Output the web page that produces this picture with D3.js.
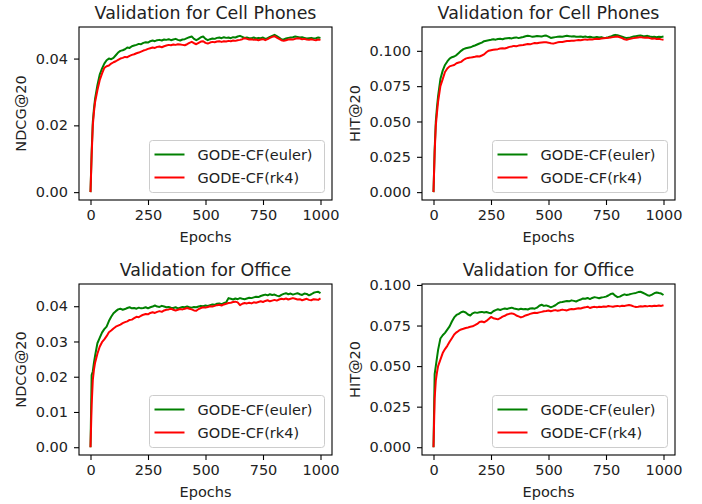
<!DOCTYPE html>
<html>
<head>
<meta charset="utf-8">
<script src="https://d3js.org/d3.v7.min.js"></script>
<style>
body { margin: 0; background: #fff; }
text { font-family: "DejaVu Sans", sans-serif; fill: #222; }
</style>
</head>
<body>
<div id="chart"></div>
<script>
// epochs where validation was logged
var epochs = [0, 5, 10, 15, 20,
	30, 40, 50, 60, 70, 80, 90, 100,
	110, 120, 130, 140, 150, 160, 170, 180, 190, 200,
	210, 220, 230, 240, 250, 260, 270, 280, 290, 300,
	310, 320, 330, 340, 350, 360, 370, 380, 390, 400,
	410, 420, 430, 440, 450, 460, 470, 480, 490, 500,
	510, 520, 530, 540, 550, 560, 570, 580, 590, 600,
	610, 620, 630, 640, 650, 660, 670, 680, 690, 700,
	710, 720, 730, 740, 750, 760, 770, 780, 790, 800,
	810, 820, 830, 840, 850, 860, 870, 880, 890, 900,
	910, 920, 930, 940, 950, 960, 970, 980, 990, 1000];

var seriesNames = ["GODE-CF(euler)", "GODE-CF(rk4)"];

var cellNdcgEuler = [0, 0.0120, 0.0210, 0.0250, 0.0280,
	0.0320, 0.0352, 0.0370, 0.0385, 0.0395, 0.0400, 0.0398, 0.0402,
	0.0410, 0.0418, 0.0423, 0.0425, 0.0428, 0.0433, 0.0432, 0.0437, 0.0439, 0.0441,
	0.0444, 0.0443, 0.0447, 0.0449, 0.0448, 0.0452, 0.0454, 0.0452, 0.0455, 0.0456,
	0.0454, 0.0457, 0.0456, 0.0458, 0.0455, 0.0457, 0.0459, 0.0456, 0.0454, 0.0457,
	0.0458, 0.0461, 0.0464, 0.0466, 0.0459, 0.0455, 0.0459, 0.0464, 0.0466, 0.0459,
	0.0455, 0.0458, 0.0460, 0.0459, 0.0462, 0.0463, 0.0461, 0.0464, 0.0462, 0.0463,
	0.0461, 0.0464, 0.0463, 0.0466, 0.0468, 0.0465, 0.0462, 0.0463, 0.0461, 0.0461,
	0.0463, 0.0460, 0.0462, 0.0461, 0.0463, 0.0459, 0.0461, 0.0465, 0.0468, 0.0471,
	0.0467, 0.0463, 0.0458, 0.0457, 0.0460, 0.0462, 0.0463, 0.0464, 0.0466, 0.0465,
	0.0463, 0.0464, 0.0462, 0.0460, 0.0461, 0.0462, 0.0460, 0.0461, 0.0463, 0.0462];

var cellNdcgRk4 = [0, 0.0110, 0.0200, 0.0240, 0.0270,
	0.0305, 0.0335, 0.0355, 0.0372, 0.0377, 0.0379, 0.0385, 0.0389,
	0.0392, 0.0396, 0.0400, 0.0402, 0.0405, 0.0404, 0.0408, 0.0411, 0.0413, 0.0416,
	0.0418, 0.0421, 0.0424, 0.0426, 0.0429, 0.0431, 0.0433, 0.0432, 0.0435, 0.0436,
	0.0434, 0.0437, 0.0439, 0.0441, 0.0440, 0.0442, 0.0441, 0.0443, 0.0442, 0.0441,
	0.0440, 0.0443, 0.0447, 0.0450, 0.0446, 0.0443, 0.0447, 0.0451, 0.0452, 0.0447,
	0.0445, 0.0448, 0.0450, 0.0449, 0.0451, 0.0452, 0.0450, 0.0452, 0.0451, 0.0453,
	0.0452, 0.0454, 0.0453, 0.0455, 0.0456, 0.0458, 0.0461, 0.0459, 0.0457, 0.0458,
	0.0456, 0.0457, 0.0455, 0.0457, 0.0458, 0.0455, 0.0458, 0.0462, 0.0465, 0.0467,
	0.0463, 0.0459, 0.0455, 0.0453, 0.0455, 0.0457, 0.0458, 0.0457, 0.0459, 0.0461,
	0.0460, 0.0458, 0.0459, 0.0457, 0.0456, 0.0458, 0.0456, 0.0455, 0.0457, 0.0456];

var cellHitEuler = [0, 0.0300, 0.0500, 0.0600, 0.0680,
	0.0800, 0.0860, 0.0900, 0.0925, 0.0945, 0.0955, 0.0960, 0.0970,
	0.0985, 0.1000, 0.1012, 0.1018, 0.1022, 0.1025, 0.1032, 0.1038, 0.1045, 0.1052,
	0.1058, 0.1068, 0.1072, 0.1075, 0.1078, 0.1082, 0.1079, 0.1084, 0.1086, 0.1082,
	0.1087, 0.1089, 0.1091, 0.1088, 0.1092, 0.1095, 0.1090, 0.1094, 0.1098, 0.1103,
	0.1107, 0.1104, 0.1099, 0.1102, 0.1105, 0.1103, 0.1101, 0.1106, 0.1108, 0.1100,
	0.1091, 0.1094, 0.1097, 0.1099, 0.1101, 0.1100, 0.1103, 0.1106, 0.1104, 0.1101,
	0.1103, 0.1099, 0.1100, 0.1102, 0.1098, 0.1101, 0.1097, 0.1099, 0.1096, 0.1095,
	0.1098, 0.1094, 0.1097, 0.1091, 0.1093, 0.1096, 0.1101, 0.1108, 0.1113, 0.1110,
	0.1106, 0.1100, 0.1094, 0.1090, 0.1092, 0.1097, 0.1101, 0.1104, 0.1106, 0.1108,
	0.1105, 0.1103, 0.1106, 0.1101, 0.1098, 0.1100, 0.1097, 0.1099, 0.1098, 0.1101];

var cellHitRk4 = [0, 0.0280, 0.0470, 0.0560, 0.0640,
	0.0750, 0.0800, 0.0850, 0.0875, 0.0890, 0.0895, 0.0900, 0.0912,
	0.0917, 0.0922, 0.0935, 0.0945, 0.0950, 0.0952, 0.0955, 0.0958, 0.0962, 0.0960,
	0.0967, 0.0975, 0.0990, 0.1001, 0.1004, 0.1007, 0.1010, 0.1012, 0.1016, 0.1019,
	0.1017, 0.1022, 0.1028, 0.1031, 0.1035, 0.1033, 0.1037, 0.1039, 0.1041, 0.1045,
	0.1048, 0.1046, 0.1051, 0.1055, 0.1053, 0.1057, 0.1059, 0.1061, 0.1060, 0.1058,
	0.1054, 0.1051, 0.1055, 0.1060, 0.1063, 0.1062, 0.1066, 0.1069, 0.1070, 0.1072,
	0.1071, 0.1074, 0.1076, 0.1075, 0.1078, 0.1081, 0.1079, 0.1082, 0.1080, 0.1083,
	0.1085, 0.1084, 0.1087, 0.1089, 0.1090, 0.1092, 0.1095, 0.1097, 0.1099, 0.1101,
	0.1096, 0.1090, 0.1082, 0.1078, 0.1083, 0.1087, 0.1090, 0.1093, 0.1095, 0.1097,
	0.1094, 0.1092, 0.1094, 0.1090, 0.1086, 0.1088, 0.1084, 0.1086, 0.1081, 0.1078];

var officeNdcgEuler = [0, 0.0205, 0.0215, 0.0240, 0.0260,
	0.0295, 0.0310, 0.0325, 0.0335, 0.0342, 0.0358, 0.0370, 0.0380,
	0.0386, 0.0391, 0.0393, 0.0390, 0.0392, 0.0395, 0.0397, 0.0394, 0.0395, 0.0393,
	0.0396, 0.0394, 0.0395, 0.0397, 0.0394, 0.0397, 0.0399, 0.0402, 0.0399, 0.0398,
	0.0401, 0.0399, 0.0397, 0.0398, 0.0396, 0.0395, 0.0397, 0.0394, 0.0396, 0.0398,
	0.0397, 0.0399, 0.0397, 0.0396, 0.0398, 0.0397, 0.0399, 0.0401, 0.0400, 0.0402,
	0.0401, 0.0403, 0.0405, 0.0404, 0.0407, 0.0408, 0.0406, 0.0409, 0.0411, 0.0423,
	0.0421, 0.0419, 0.0422, 0.0420, 0.0423, 0.0421, 0.0420, 0.0422, 0.0424, 0.0423,
	0.0425, 0.0427, 0.0426, 0.0429, 0.0431, 0.0433, 0.0431, 0.0434, 0.0432, 0.0433,
	0.0430, 0.0428, 0.0432, 0.0435, 0.0437, 0.0434, 0.0436, 0.0433, 0.0435, 0.0437,
	0.0434, 0.0432, 0.0436, 0.0435, 0.0431, 0.0434, 0.0438, 0.0440, 0.0441, 0.0437];

var officeNdcgRk4 = [0, 0.0120, 0.0190, 0.0220, 0.0240,
	0.0265, 0.0285, 0.0298, 0.0306, 0.0315, 0.0326, 0.0331, 0.0337,
	0.0342, 0.0345, 0.0348, 0.0352, 0.0355, 0.0357, 0.0361, 0.0362, 0.0366, 0.0370,
	0.0369, 0.0373, 0.0376, 0.0378, 0.0377, 0.0381, 0.0383, 0.0381, 0.0384, 0.0386,
	0.0384, 0.0388, 0.0390, 0.0391, 0.0393, 0.0390, 0.0388, 0.0390, 0.0392, 0.0391,
	0.0393, 0.0395, 0.0393, 0.0391, 0.0388, 0.0387, 0.0392, 0.0395, 0.0397, 0.0396,
	0.0398, 0.0400, 0.0399, 0.0401, 0.0403, 0.0404, 0.0402, 0.0405, 0.0407, 0.0409,
	0.0410, 0.0412, 0.0413, 0.0411, 0.0403, 0.0407, 0.0409, 0.0408, 0.0410, 0.0408,
	0.0411, 0.0410, 0.0412, 0.0414, 0.0412, 0.0415, 0.0417, 0.0414, 0.0416, 0.0418,
	0.0416, 0.0419, 0.0421, 0.0420, 0.0422, 0.0419, 0.0421, 0.0423, 0.0421, 0.0419,
	0.0420, 0.0417, 0.0419, 0.0421, 0.0418, 0.0417, 0.0420, 0.0419, 0.0418, 0.0422];

var officeHitEuler = [0, 0.0450, 0.0500, 0.0550, 0.0600,
	0.0670, 0.0690, 0.0705, 0.0725, 0.0745, 0.0775, 0.0800, 0.0815,
	0.0822, 0.0832, 0.0836, 0.0830, 0.0818, 0.0812, 0.0825, 0.0831, 0.0828, 0.0832,
	0.0834, 0.0830, 0.0833, 0.0829, 0.0826, 0.0838, 0.0845, 0.0850, 0.0846, 0.0851,
	0.0855, 0.0852, 0.0857, 0.0860, 0.0855, 0.0852, 0.0849, 0.0853, 0.0850, 0.0852,
	0.0849, 0.0855, 0.0857, 0.0854, 0.0860, 0.0872, 0.0878, 0.0871, 0.0874, 0.0869,
	0.0862, 0.0868, 0.0875, 0.0886, 0.0893, 0.0895, 0.0898, 0.0901, 0.0899, 0.0905,
	0.0902, 0.0898, 0.0905, 0.0910, 0.0917, 0.0915, 0.0920, 0.0913, 0.0920, 0.0925,
	0.0922, 0.0918, 0.0923, 0.0925, 0.0928, 0.0935, 0.0944, 0.0947, 0.0934, 0.0925,
	0.0928, 0.0936, 0.0942, 0.0938, 0.0941, 0.0945, 0.0948, 0.0951, 0.0956, 0.0958,
	0.0952, 0.0945, 0.0937, 0.0934, 0.0940, 0.0949, 0.0954, 0.0950, 0.0947, 0.0938];

var officeHitRk4 = [0, 0.0300, 0.0410, 0.0460, 0.0500,
	0.0540, 0.0580, 0.0605, 0.0625, 0.0650, 0.0672, 0.0695, 0.0708,
	0.0718, 0.0726, 0.0730, 0.0735, 0.0738, 0.0742, 0.0745, 0.0752, 0.0760, 0.0772,
	0.0775, 0.0770, 0.0778, 0.0790, 0.0803, 0.0795, 0.0792, 0.0788, 0.0795, 0.0805,
	0.0810, 0.0818, 0.0822, 0.0825, 0.0821, 0.0812, 0.0806, 0.0800, 0.0805, 0.0812,
	0.0816, 0.0822, 0.0826, 0.0829, 0.0827, 0.0831, 0.0834, 0.0838, 0.0840, 0.0843,
	0.0838, 0.0842, 0.0845, 0.0841, 0.0844, 0.0848, 0.0845, 0.0843, 0.0849, 0.0852,
	0.0850, 0.0853, 0.0856, 0.0855, 0.0859, 0.0862, 0.0866, 0.0858, 0.0863, 0.0865,
	0.0862, 0.0866, 0.0864, 0.0867, 0.0865, 0.0870, 0.0868, 0.0866, 0.0869, 0.0871,
	0.0868, 0.0872, 0.0870, 0.0874, 0.0876, 0.0873, 0.0868, 0.0864, 0.0866, 0.0869,
	0.0867, 0.0870, 0.0868, 0.0871, 0.0869, 0.0872, 0.0870, 0.0873, 0.0871, 0.0875];

// tick labels
var xTicks = [0, 250, 500, 750, 1000];
var ndcgCellTicks = [0, 0.02, 0.04];
var ndcgOfficeTicks = [0, 0.01, 0.02, 0.03, 0.04];
var hitTicks = [0, 0.025, 0.05, 0.075, 0.1];

var width = 702,
	height = 504,
	fs = 14.5;

var colors = ["#008000", "#ff0000"];

var svg = d3.select("#chart").append("svg")
	.attr("width", width)
	.attr("height", height)
	.style("background", "#fff");

// one entry per subplot; box = [left, top, right, bottom] in px
var panels = [
	{title: "Validation for Cell Phones", ylabel: "NDCG@20", series: [cellNdcgEuler, cellNdcgRk4],
		yTicks: ndcgCellTicks, fmt: ".2f", box: [79, 27, 332, 200], ylabX: 21},
	{title: "Validation for Cell Phones", ylabel: "HIT@20", series: [cellHitEuler, cellHitRk4],
		yTicks: hitTicks, fmt: ".3f", box: [422, 27, 675, 200], ylabX: 355},
	{title: "Validation for Office", ylabel: "NDCG@20", series: [officeNdcgEuler, officeNdcgRk4],
		yTicks: ndcgOfficeTicks, fmt: ".2f", box: [79, 284, 332, 455], ylabX: 21},
	{title: "Validation for Office", ylabel: "HIT@20", series: [officeHitEuler, officeHitRk4],
		yTicks: hitTicks, fmt: ".3f", box: [422, 284, 675, 455], ylabX: 355}
];

panels.forEach(function(p){
	var l = p.box[0], t = p.box[1], r = p.box[2], b = p.box[3];

	// matplotlib style 5% margins
	var ymax = d3.max(p.series, function(s){ return d3.max(s); });
	var xScale = d3.scaleLinear()
		.domain([-50, 1050])
		.range([l, r]);
	var yScale = d3.scaleLinear()
		.domain([-0.05 * ymax, 1.05 * ymax])
		.range([b, t]);

	var g = svg.append("g");

	var line = d3.line()
		.x(function(d, i){ return xScale(epochs[i]); })
		.y(function(d){ return yScale(d); });

	p.series.forEach(function(s, k){
		g.append("path")
			.datum(s)
			.attr("d", line)
			.attr("fill", "none")
			.attr("stroke", colors[k])
			.attr("stroke-width", 2)
			.attr("stroke-linejoin", "round");
	});

	// axes
	var xAxis = g.append("g")
		.attr("transform", "translate(0," + b + ")")
		.call(d3.axisBottom(xScale).tickValues(xTicks).tickSize(5).tickPadding(5).tickFormat(d3.format("d")));
	var yAxis = g.append("g")
		.attr("transform", "translate(" + l + ",0)")
		.call(d3.axisLeft(yScale).tickValues(p.yTicks).tickSize(5).tickPadding(6).tickFormat(d3.format(p.fmt)));

	[xAxis, yAxis].forEach(function(a){
		a.select(".domain").remove();
		a.selectAll("line").attr("stroke", "#000").attr("stroke-width", 1.1);
		a.selectAll("text")
			.style("font-family", "DejaVu Sans")
			.style("font-size", fs + "px")
			.attr("fill", "#222");
	});

	// frame
	g.append("rect")
		.attr("x", l).attr("y", t)
		.attr("width", r - l).attr("height", b - t)
		.attr("fill", "none")
		.attr("stroke", "#000")
		.attr("stroke-width", 1.1);

	g.append("text")
		.attr("x", (l + r) / 2).attr("y", t - 8.5)
		.attr("text-anchor", "middle")
		.style("font-size", (fs * 1.2) + "px")
		.text(p.title);

	g.append("text")
		.attr("x", (l + r) / 2).attr("y", b + 42)
		.attr("text-anchor", "middle")
		.style("font-size", fs + "px")
		.text("Epochs");

	g.append("text")
		.attr("transform", "translate(" + p.ylabX + "," + ((t + b) / 2) + ") rotate(-90)")
		.attr("text-anchor", "middle")
		.attr("dy", "0.35em")
		.style("font-size", fs + "px")
		.text(p.ylabel);

	// legend, lower right
	var lw = 175, lh = 52;
	var lx = r - 7.5 - lw, ly = b - 7.5 - lh;
	var leg = g.append("g").attr("transform", "translate(" + lx + "," + ly + ")");
	leg.append("rect")
		.attr("width", lw).attr("height", lh)
		.attr("rx", 3)
		.attr("fill", "#fff").attr("fill-opacity", 0.8)
		.attr("stroke", "#ccc").attr("stroke-width", 1);
	seriesNames.forEach(function(name, k){
		var yy = 14 + k * 23;
		leg.append("line")
			.attr("x1", 5).attr("x2", 35)
			.attr("y1", yy).attr("y2", yy)
			.attr("stroke", colors[k]).attr("stroke-width", 2);
		leg.append("text")
			.attr("x", 48).attr("y", yy)
			.attr("dy", "0.36em")
			.style("font-size", fs + "px")
			.text(name);
	});
});
</script>
</body>
</html>
